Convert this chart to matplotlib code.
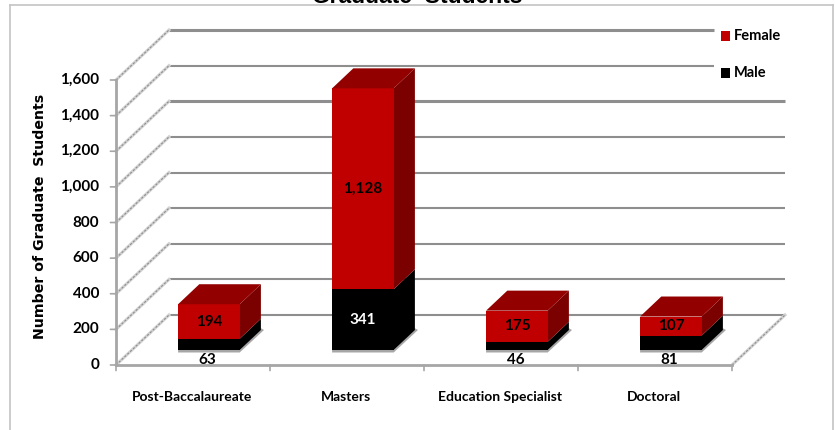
"""Graduate students by degree level, oblique 3D stacked columns."""
import matplotlib
matplotlib.use("Agg")
import matplotlib.pyplot as plt

categories = ["Post-Baccalaureate", "Masters", "Education Specialist", "Doctoral"]
male = [63, 341, 46, 81]
female = [194, 1128, 175, 107]
y_ticks = [0, 200, 400, 600, 800, 1000, 1200, 1400, 1600]

W, H = 835, 430
BODY = "Lato"

RED, RED_TOP, RED_SIDE = "#C00000", "#930000", "#7B0000"
BLACK = "#000000"
GRID = "#8E8E8E"
SHADOW = "#A6A6A6"

# oblique projection: full floor depth in axis units
DEPTH_X = 53 / 154
DEPTH_Y = 50 / (285 / 1600)


def proj(x, v, d=0.0):
    return x + d * DEPTH_X, v + d * DEPTH_Y


fig = plt.figure(figsize=(W / 100, H / 100), dpi=100, facecolor="white")
ax = fig.add_axes([116 / W, (H - 365) / H, 616 / W, 285 / H])
ax.set_xlim(0, 4)
ax.set_ylim(0, 1600)
ax.axis("off")

# chart frame, sits outside the axes so use figure coords
for xs, ys in [((10, 10), (430, 5)), ((10, 833), (5, 5)), ((833, 833), (5, 430))]:
    fig.add_artist(plt.Line2D([x / W for x in xs], [1 - y / H for y in ys],
                              color="#C4C4C4", lw=1.2))

# back wall grid and side wall diagonals
for v in y_ticks:
    x0, y0 = proj(0, v, 1)
    # top two lines stop short of the legend
    x1 = 3.883 if v >= 1400 else proj(4, v, 1)[0]
    ax.plot([x0, x1], [y0, y0], color=GRID, lw=2.2 if v in (1600, 1200) else 1.5,
            clip_on=False, zorder=1, solid_capstyle="butt")
    for col, lw, ls in [("#D2D2D2", 2.2, "-"), ("#8E8E8E", 0.8, (0, (2, 1.5)))]:
        ax.plot([0, x0], [v, y0], color=col, lw=lw, ls=ls, clip_on=False, zorder=1)

# floor right edge
x0, y0 = proj(4, 0, 1)
for col, lw, ls in [("#D2D2D2", 2.2, "-"), ("#8E8E8E", 0.8, (0, (2, 1.5)))]:
    ax.plot([4, x0], [0, y0], color=col, lw=lw, ls=ls, clip_on=False, zorder=1)

# front axes
ax.plot([0, 0], [0, 1600], color="#A6A6A6", lw=2, clip_on=False, zorder=2)
ax.plot([0, 4], [0, 0], color="#A6A6A6", lw=2, clip_on=False, zorder=2)
for v in y_ticks:
    ax.annotate("", xy=(0, v), xytext=(-4, 0), textcoords="offset points",
                annotation_clip=False,
                arrowprops=dict(arrowstyle="-", color="#A6A6A6", lw=1.2, shrinkA=0, shrinkB=0))
    ax.annotate(f"{v:,}", xy=(0, v), xytext=(-12, 0), textcoords="offset points",
                ha="right", va="center", fontsize=11, fontweight="bold",
                family=BODY, annotation_clip=False)
for t in range(5):
    ax.annotate("", xy=(t, 0), xytext=(0, -4), textcoords="offset points",
                annotation_clip=False,
                arrowprops=dict(arrowstyle="-", color="#A6A6A6", lw=1.2, shrinkA=0, shrinkB=0))

# columns
BAR_W = 0.40
D_FRONT, D_BACK = 0.3, 0.7


def box(left, bottom, top, front, side, cap=None):
    right = left + BAR_W
    pts = [proj(right, bottom, D_FRONT), proj(right, bottom, D_BACK),
           proj(right, top, D_BACK), proj(right, top, D_FRONT)]
    ax.fill(*zip(*pts), color=side, lw=0, zorder=4, clip_on=False)
    pts = [proj(left, bottom, D_FRONT), proj(right, bottom, D_FRONT),
           proj(right, top, D_FRONT), proj(left, top, D_FRONT)]
    ax.fill(*zip(*pts), color=front, lw=0, zorder=5, clip_on=False)
    if cap:
        pts = [proj(left, top, D_FRONT), proj(right, top, D_FRONT),
               proj(right, top, D_BACK), proj(left, top, D_BACK)]
        ax.fill(*zip(*pts), color=cap, lw=0, zorder=5, clip_on=False)


for i, (m, f) in enumerate(zip(male, female)):
    left = i + 0.5 - BAR_W / 2
    # soft grey strip under the column
    sh = [proj(left, -14, D_FRONT), proj(left + BAR_W, -14, D_FRONT),
          proj(left + BAR_W + 0.02, 0, D_BACK), proj(left + BAR_W, 10, D_BACK),
          proj(left + BAR_W, 0, D_FRONT), proj(left, 0, D_FRONT)]
    ax.fill(*zip(*sh), color=SHADOW, lw=0, zorder=3, clip_on=False)
    box(left, 0, m, BLACK, BLACK)
    box(left, m, m + f, RED, RED_SIDE, RED_TOP)

    cx, by = proj(i + 0.5, 0, D_FRONT)
    # small male segments get their label under the column
    if m < 100:
        ax.annotate(f"{m:,}", xy=(cx, by), xytext=(-1, -7), textcoords="offset points",
                    ha="center", va="center", fontsize=11, fontweight="bold", family=BODY)
    else:
        ax.text(cx, by + m / 2, f"{m:,}", ha="center", va="center", color="white",
                fontsize=11, fontweight="bold", family=BODY, zorder=6)
    ax.text(cx, by + m + f / 2, f"{f:,}", ha="center", va="center", color="black",
            fontsize=11, fontweight="bold", family=BODY, zorder=6)

# category labels
for i, c in enumerate(categories):
    ax.annotate(c, xy=(i + 0.5, 0), xytext=(-1, -23), textcoords="offset points",
                ha="center", va="center", fontsize=10, fontweight="bold",
                family=BODY, annotation_clip=False)

fig.text(40 / W, 1 - 216 / H, "Number of Graduate  Students", rotation=90,
         ha="center", va="center", fontsize=10.2, fontweight="bold", family="DejaVu Sans")

# title is cut by the top edge in the source image
fig.text(417 / W, 1 - 3 / H, "Graduate  Students", ha="center", va="baseline",
         fontsize=16.5, fontweight="bold", family="Liberation Sans")

# legend
for name, col, yp in [("Female", RED, 36), ("Male", BLACK, 73)]:
    fig.patches.append(plt.Rectangle((721 / W, 1 - (yp + 5) / H), 9 / W, 10 / H,
                                     color=col, lw=0, transform=fig.transFigure))
    fig.text(734 / W, 1 - yp / H, name, ha="left", va="center", fontsize=10.5,
             fontweight="bold", family=BODY)

fig.savefig("out.png", dpi=100)
